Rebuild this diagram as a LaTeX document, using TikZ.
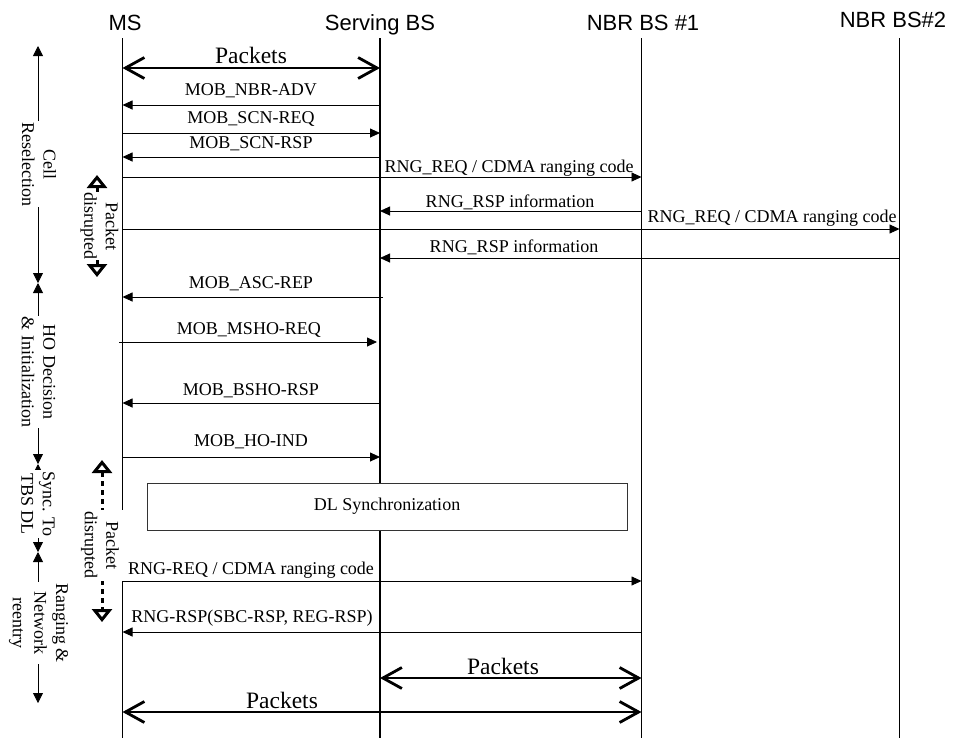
\documentclass[tikz,border=0pt]{standalone}
\usepackage{fontspec}
\setmainfont{Liberation Serif}
\newfontfamily\headfont{Liberation Sans}
\usetikzlibrary{arrows.meta}

\begin{document}
\begin{tikzpicture}[x=1pt,y=-1pt,
  lifeline/.style={line width=1.8pt},
  head/.style={font=\headfont\fontsize{22}{26}\selectfont, anchor=base, inner sep=0pt},
  msg/.style={line width=0.9pt, -{Triangle[length=10pt,width=9pt]}},
  lbl/.style={font=\fontsize{18}{21.6}\selectfont, anchor=base, inner sep=0pt},
  pktarrow/.style={line width=2.8pt, {Straight Barb[length=19pt,width=21pt]}-{Straight Barb[length=19pt,width=21pt]}},
  pktlbl/.style={font=\fontsize{23.5}{27}\selectfont, anchor=base, inner sep=0pt},
  phase/.style={line width=0.8pt, {Triangle[length=10pt,width=10pt]}-{Triangle[length=10pt,width=10pt]}},
  phaselbl/.style={font=\fontsize{18}{21.6}\selectfont, rotate=-90, align=center, fill=white, inner sep=1pt},
  disr/.style={line width=3pt, {Triangle[open,length=13pt,width=20pt]}-{Triangle[open,length=13pt,width=20pt]}},
  disrlbl/.style={font=\fontsize{18}{21.6}\selectfont, rotate=-90, align=center, fill=white},
  syncbox/.style={draw=black!80, line width=1pt, fill=white, minimum width=480pt, minimum height=47pt,
                  font=\fontsize{18}{21.6}\selectfont}
]
\useasboundingbox (0,0) rectangle (956,740);

% entity headers
\node[head] (hMS)   at (125,30) {MS};
\node[head] (hSBS)  at (380,30) {Serving BS};
\node[head] (hNBR1) at (643,30) {NBR BS \#1};
\node[head] (hNBR2) at (893,27) {NBR BS\#2};

% lifelines
\coordinate (ms)   at (122.5,38);
\coordinate (sbs)  at (380,38);
\coordinate (nbr1) at (641.5,38);
\coordinate (nbr2) at (899.5,38);
\coordinate (msB)   at (122.5,738);
\coordinate (sbsB)  at (380,738);
\coordinate (nbr1B) at (641.5,738);
\coordinate (nbr2B) at (899.5,738);
\draw[lifeline] (ms) -- (msB);
\draw[lifeline] (sbs) -- (sbsB);
\draw[lifeline] (nbr1) -- (nbr1B);
\draw[lifeline] (nbr2) -- (nbr2B);

% data flow before handover
\draw[pktarrow] (ms |- 0,68) -- (sbs |- 0,68);
\node[pktlbl] (p1) at (251,63) {Packets};

% cell reselection signalling
\draw[msg] (sbs |- 0,105) -- (ms |- 0,105);
\node[lbl] (m1) at (251,95) {MOB\_NBR-ADV};
\draw[msg] (ms |- 0,133) -- (sbs |- 0,133);
\node[lbl] (m2) at (251,123) {MOB\_SCN-REQ};
\draw[msg] (sbs |- 0,157) -- (ms |- 0,157);
\node[lbl] (m3) at (251,148) {MOB\_SCN-RSP};
\draw[msg] (ms |- 0,177) -- (nbr1 |- 0,177);
\node[lbl] (m4) at (509,172) {RNG\_REQ / CDMA ranging code};
\draw[msg] (nbr1 |- 0,211) -- (sbs |- 0,211);
\node[lbl] (m5) at (510,207) {RNG\_RSP information};
\draw[msg] (ms |- 0,229) -- (nbr2 |- 0,229);
\node[lbl] (m6) at (772,222) {RNG\_REQ / CDMA ranging code};
\draw[msg] (nbr2 |- 0,258) -- (sbs |- 0,258);
\node[lbl] (m7) at (514,252) {RNG\_RSP information};

% handover decision and initiation
\coordinate (ascS) at (383,297);
\draw[msg] (ascS) -- (ms |- ascS);
\node[lbl] (m8) at (251,288) {MOB\_ASC-REP};
\coordinate (mshoS) at (119,342);
\coordinate (mshoE) at (377,342);
\draw[msg] (mshoS) -- (mshoE);
\node[lbl] (m9) at (249,334) {MOB\_MSHO-REQ};
\draw[msg] (sbs |- 0,403) -- (ms |- 0,403);
\node[lbl] (m10) at (251,395) {MOB\_BSHO-RSP};
\draw[msg] (ms |- 0,457) -- (sbs |- 0,457);
\node[lbl] (m11) at (251,446) {MOB\_HO-IND};

% downlink synchronisation with the target
\node[syncbox] (dl) at (387,506.5) {DL Synchronization};

% ranging and network re-entry
\draw[msg] (ms |- 0,581) -- (nbr1 |- 0,581);
\node[lbl] (m12) at (251,574) {RNG-REQ / CDMA ranging code};
\draw[msg] (nbr1 |- 0,632) -- (ms |- 0,632);
\node[lbl] (m13) at (252,622) {RNG-RSP(SBC-RSP, REG-RSP)};

% data flow after handover
\draw[pktarrow] (sbs |- 0,678) -- (nbr1 |- 0,678);
\node[pktlbl] (p2) at (503,674) {Packets};
\draw[pktarrow] (ms |- 0,712) -- (nbr1 |- 0,712);
\node[pktlbl] (p3) at (282,708) {Packets};

% phase brackets on the left
\coordinate (ph0) at (38,46);
\coordinate (ph1) at (38,283);
\coordinate (ph2) at (38,464);
\coordinate (ph3) at (38,552);
\coordinate (ph4) at (38,703);
\draw[phase] (ph0) -- (ph1);
\draw[phase] (ph1) -- (ph2);
\draw[phase] (ph2) -- (ph3);
\draw[phase] (ph3) -- (ph4);
\node[phaselbl] (ph0l) at (39,164) {Cell\\Reselection};
\node[phaselbl] (ph1l) at (38.5,372) {HO Decision\\\& Initialization};
\node[phaselbl] (ph2l) at (38,504) {Sync. To\\TBS DL};
\node[phaselbl] (ph3l) at (38.5,623) {Ranging \&\\Network\\reentry};

% packet disruption intervals
\coordinate (d1a) at (97,175);
\coordinate (d1b) at (97,277);
\draw[disr] (d1a) -- (d1b);
\node[disrlbl, inner sep=0.5pt] (d1l) at (99.5,226) {Packet\\disrupted};
\coordinate (d2a) at (102,460);
\coordinate (d2b) at (102,622);
\draw[disr, dash pattern=on 5pt off 4pt] (d2a) -- (d2b);
\node[disrlbl, inner xsep=2pt, inner ysep=5pt] (d2l) at (100,545) {Packet\\disrupted};
\end{tikzpicture}
\end{document}
